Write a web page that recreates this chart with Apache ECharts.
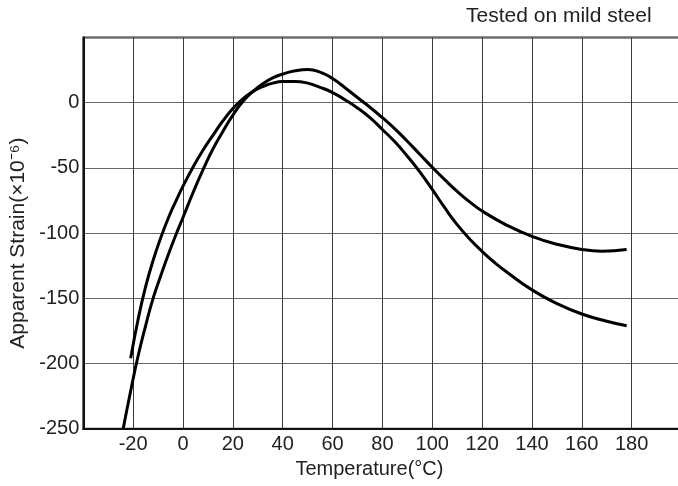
<!DOCTYPE html>
<html>
<head>
<meta charset="utf-8">
<script src="https://cdn.jsdelivr.net/npm/echarts@6/dist/echarts.min.js"></script>
<style>
html,body{margin:0;padding:0;background:#fff;}
#chart{width:678px;height:486px;}
</style>
</head>
<body>
<div id="chart"></div>
<script>
// Curve A: rises earlier, lower peak, ends lower
const tempA   = [-21, -18, -15, -12, -9, -6, -3, 0, 4, 8, 12, 16, 20, 24, 28, 32, 36, 40, 45, 50, 55, 60, 65, 70, 75, 80, 85, 90, 95, 100, 105, 110, 115, 120, 125, 130, 140, 150, 160, 170, 178];
const strainA = [-196, -166, -141, -121, -104, -89, -76, -64, -49.5, -36.5, -25, -14, -4.5, 3, 8.5, 12.3, 15, 16.2, 16.3, 15, 11.8, 7.8, 2.3, -4, -11.5, -20.5, -30, -41, -53, -66.5, -80.5, -93.5, -104.5, -114, -122.5, -130, -143.5, -154, -162, -167.5, -171];
// Curve B: starts lower, higher peak, ends higher
const tempB   = [-24, -21, -18, -15, -12, -9, -6, -3, 0, 4, 8, 12, 16, 20, 24, 28, 32, 36, 40, 45, 50, 55, 60, 65, 70, 75, 80, 85, 90, 95, 100, 105, 110, 115, 120, 130, 140, 150, 160, 168, 178];
const strainB = [-250, -221, -194, -171, -150, -133, -117, -102, -88, -69, -51.5, -35.5, -22, -9.5, 1, 8.5, 14.5, 19, 22, 24.5, 25.5, 23.5, 18.5, 11.5, 4, -3.5, -11.5, -20, -29.5, -39.5, -49.5, -59, -68, -76, -83, -94, -102.5, -108.5, -112.5, -113.8, -112.5];

const xTickLabels = [-20, 0, 20, 40, 60, 80, 100, 120, 140, 160, 180];
const yTickLabels = [-250, -200, -150, -100, -50, 0];

const titleText = 'Tested on mild steel';
const xName = 'Temperature(°C)';
const yName = 'Apparent Strain(×10⁻⁶)';

const FONT = '"Liberation Sans", Arial, Helvetica, sans-serif';

const chart = echarts.init(document.getElementById('chart'), null, {renderer: 'canvas'});
chart.setOption({
  animation: false,
  backgroundColor: '#fff',
  title: {
    text: titleText,
    left: 466,
    top: 6,
    padding: 0,
    textStyle: {fontFamily: FONT, fontSize: 21, fontWeight: 'normal', color: '#222'}
  },
  grid: {
    left: 83.3,
    right: -3.5,
    top: 37.5,
    bottom: 57.2,
    outerBoundsMode: 'none',
    containLabel: false,
    show: true,
    borderColor: '#333',
    borderWidth: 2,
    backgroundColor: 'transparent'
  },
  xAxis: {
    type: 'value',
    min: -40,
    max: 200,
    interval: 20,
    name: xName,
    nameLocation: 'middle',
    nameGap: 29,
    nameTextStyle: {fontFamily: FONT, fontSize: 20, color: '#222', padding: [0, 26, 0, 0]},
    axisLine: {show: true, onZero: false, lineStyle: {color: '#111', width: 2}},
    axisTick: {show: false},
    axisLabel: {
      margin: 6,
      fontFamily: FONT, fontSize: 20, color: '#222',
      formatter: v => xTickLabels.indexOf(v) >= 0 ? String(v) : ''
    },
    splitLine: {show: true, lineStyle: {color: '#3a3a3a', width: 1}}
  },
  yAxis: {
    type: 'value',
    min: -250,
    max: 50,
    interval: 50,
    name: yName,
    nameLocation: 'middle',
    nameGap: 54,
    nameTextStyle: {fontFamily: FONT, fontSize: 21, color: '#222', padding: [0, 20, 0, 0]},
    axisLine: {show: true, onZero: false, lineStyle: {color: '#111', width: 2}},
    axisTick: {show: false},
    axisLabel: {
      margin: 4,
      fontFamily: FONT, fontSize: 20, color: '#222',
      formatter: v => yTickLabels.indexOf(v) >= 0 ? String(v) : ''
    },
    splitLine: {show: true, lineStyle: {color: '#666', width: 1}}
  },
  series: [
    {
      type: 'line',
      data: tempA.map((t, i) => [t, strainA[i]]),
      smooth: true,
      showSymbol: false,
      symbol: 'none',
      lineStyle: {color: '#000', width: 3}
    },
    {
      type: 'line',
      data: tempB.map((t, i) => [t, strainB[i]]),
      smooth: true,
      showSymbol: false,
      symbol: 'none',
      lineStyle: {color: '#000', width: 3}
    }
  ]
});
</script>
</body>
</html>
